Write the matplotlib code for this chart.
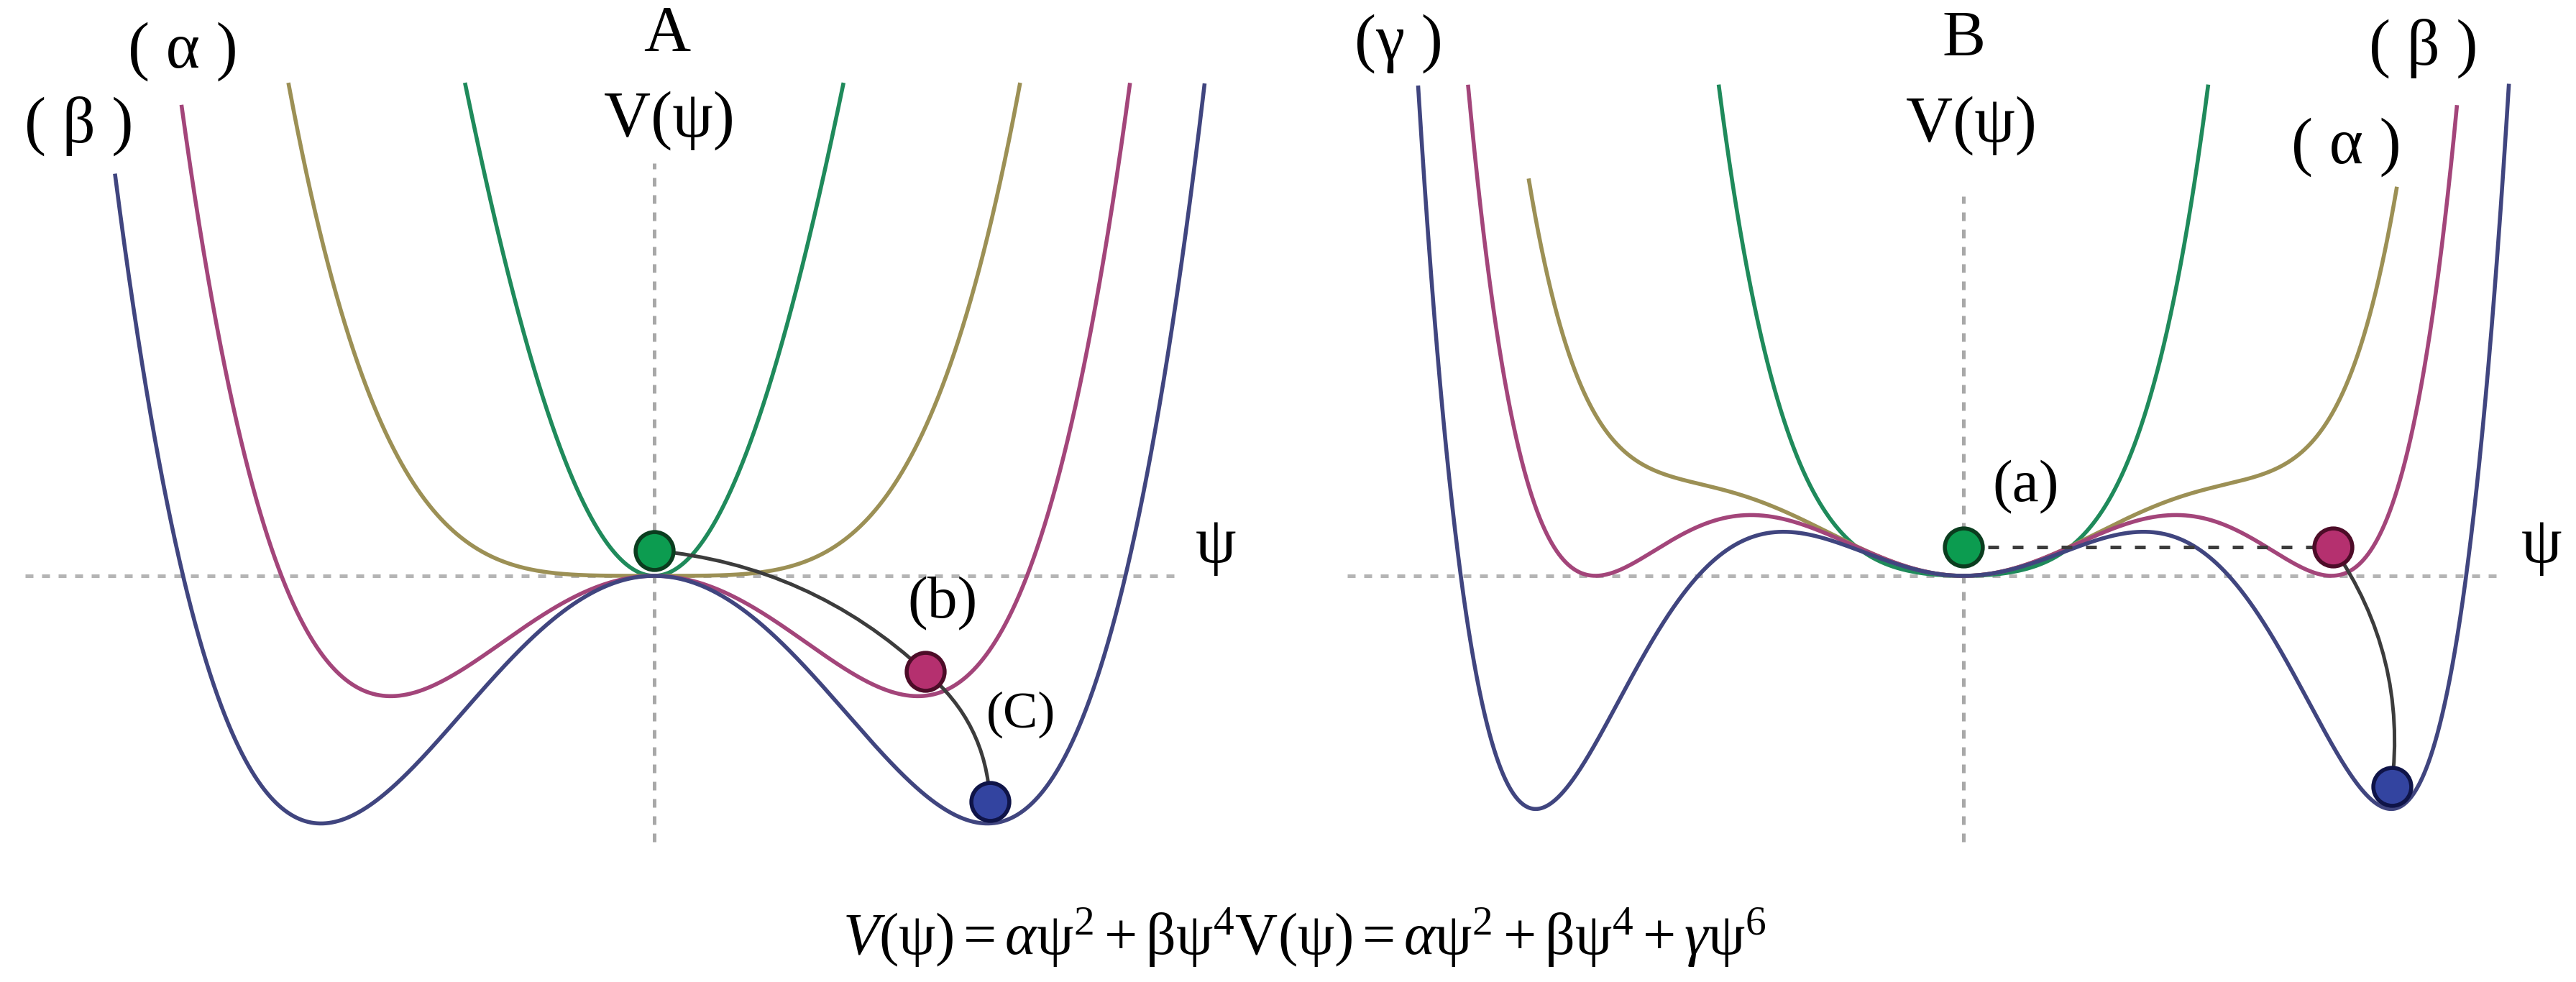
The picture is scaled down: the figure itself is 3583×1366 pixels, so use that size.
import numpy as np
import matplotlib.pyplot as plt
from matplotlib.patches import FancyArrowPatch

plt.rcParams['mathtext.fontset'] = 'custom'
plt.rcParams['mathtext.rm'] = 'Liberation Serif'
plt.rcParams['mathtext.it'] = 'Liberation Serif:italic'
LBL_FONT = ['Liberation Serif', 'DejaVu Serif']

# curve order: green, olive, magenta, navy
line_colors = ['#1f8a5b', '#9c9055', '#a3457a', '#40457f']
ball_fill = ['#0c9c50', '#b5306f', '#3344a0']
ball_edge = ['#0b3d1f', '#4d0c28', '#0f1448']

# panel A : V = a psi^2 + b psi^4
a_A = [2.42, 0.0, -0.569, -0.733]
b_A = [-0.12, 0.122, 0.1105, 0.0891]
topL_A = [2.99, 2.99, 2.86, 2.44]   # where each branch is cut
topR_A = [2.99, 2.99, 2.99, 2.99]

# panel B : V = a psi^2 + b psi^4 + c psi^6
a_B = [0.223, 0.4855, 0.4978, 0.4745]
b_B = [0.4445, -0.1532, -0.1984, -0.2326]
c_B = [0.0278, 0.01901, 0.01977, 0.01943]
topL_B = [2.98, 2.41, 2.98, 2.98]
topR_B = [2.98, 2.36, 2.86, 2.99]

# balls (green, magenta, blue)
ballA_psi = [0.0, 1.649, 2.044]
ballA_V = [0.154, -0.583, -1.374]
ballB_psi = [0.0, 2.25, 2.607]
ballB_V = [0.173, 0.173, -1.282]

# black connectors: (from ball, to ball, bend)
connA = [(0, 1, -0.17), (1, 2, -0.22)]
connB = [(1, 2, -0.19)]

# dotted axes
hA = [-3.83, 3.17]
vA = [-1.62, 2.51]
hB = [-3.75, 3.25]
vB = [-1.62, 2.31]

W, H, S = 3583, 1366, 228.5   # pixels, pixels per unit

fig = plt.figure(figsize=(W / 100, H / 100), dpi=100)
axA = fig.add_axes([0, 0, 1791 / W, 1])
axB = fig.add_axes([1791 / W, 0, 1792 / W, 1])
axA.set(xlim=[-910 / S, (1791 - 910) / S], ylim=[-(H - 801) / S, 801 / S])
axB.set(xlim=[(1791 - 2731) / S, (W - 2731) / S], ylim=[-(H - 801) / S, 801 / S])
for ax in (axA, axB):
    ax.axis('off')

psi = np.linspace(-3.9, 3.9, 12001)


def potential(p, coefs):
    return sum(c * p ** (2 * (k + 1)) for k, c in enumerate(coefs))


def guides(ax, h, v):
    ax.plot(h, [0, 0], color='#b4b4b4', lw=3.6, ls=(0, (2.2, 2.4)), zorder=1)
    ax.plot([0, 0], v, color='#a8a8a8', lw=3.6, ls=(0, (2.4, 2.4)), zorder=1)


guides(axA, hA, vA)
guides(axB, hB, vB)

for i in range(4):
    V = potential(psi, [a_A[i], b_A[i]])
    top = np.where(psi < 0, topL_A[i], topR_A[i])
    axA.plot(psi, np.where(V <= top, V, np.nan), color=line_colors[i], lw=4.0, zorder=2)
    V = potential(psi, [a_B[i], b_B[i], c_B[i]])
    top = np.where(psi < 0, topL_B[i], topR_B[i])
    axB.plot(psi, np.where(V <= top, V, np.nan), color=line_colors[i], lw=4.0, zorder=2)

for ax, bp, bv, conns in ((axA, ballA_psi, ballA_V, connA), (axB, ballB_psi, ballB_V, connB)):
    for i, j, rad in conns:
        ax.add_patch(FancyArrowPatch((bp[i], bv[i]), (bp[j], bv[j]), arrowstyle='-',
                                     connectionstyle=f'arc3,rad={rad}', shrinkA=0, shrinkB=0,
                                     color='#3c3c3c', lw=3.6, zorder=3))
    for k in range(3):
        ax.plot(bp[k], bv[k], 'o', ms=38, mfc=ball_fill[k], mec=ball_edge[k], mew=4, zorder=4)

# dashed link in B (green ball -> magenta ball)
axB.plot(ballB_psi[:2], ballB_V[:2], color='#3c3c3c', lw=3.6, ls=(0, (3, 3.8)), zorder=3)

big = dict(fontsize=65, family=LBL_FONT, ha='center', va='center', zorder=5)
axA.text(0.079, 3.29, 'A', **big)
axA.text(0.092, 2.77, 'V(ψ)', **big)
axA.text(-2.87, 3.19, '( α )', **big)
axA.text(-3.50, 2.74, '( β )', **big)
axA.text(3.42, 0.18, 'ψ', **big)
axA.text(1.755, -0.17, '(b)', fontsize=60, family=LBL_FONT, ha='center', va='center', zorder=5)
axA.text(2.232, -0.845, '(C)', fontsize=52, family=LBL_FONT, ha='center', va='center', zorder=5)

axB.text(0.0, 3.26, 'B', **big)
axB.text(0.048, 2.74, 'V(ψ)', **big)
axB.text(-3.44, 3.24, '(γ )', **big)
axB.text(2.80, 3.21, '( β )', **big)
axB.text(2.33, 2.61, '( α )', **big)
axB.text(3.52, 0.18, 'ψ', **big)
axB.text(0.381, 0.54, '(a)', fontsize=60, family=LBL_FONT, ha='center', va='center', zorder=5)

fig.text(0.5063, 0.028,
         r'$V(\mathrm{\psi}) = \alpha\mathrm{\psi}^2 + \mathrm{\beta\psi}^4\mathrm{V(\psi)} = '
         r'\alpha\mathrm{\psi}^2 + \mathrm{\beta\psi}^4 + \gamma\mathrm{\psi}^6$',
         fontsize=59, ha='center', va='baseline')

fig.savefig('out.png', dpi=100, facecolor='white')
